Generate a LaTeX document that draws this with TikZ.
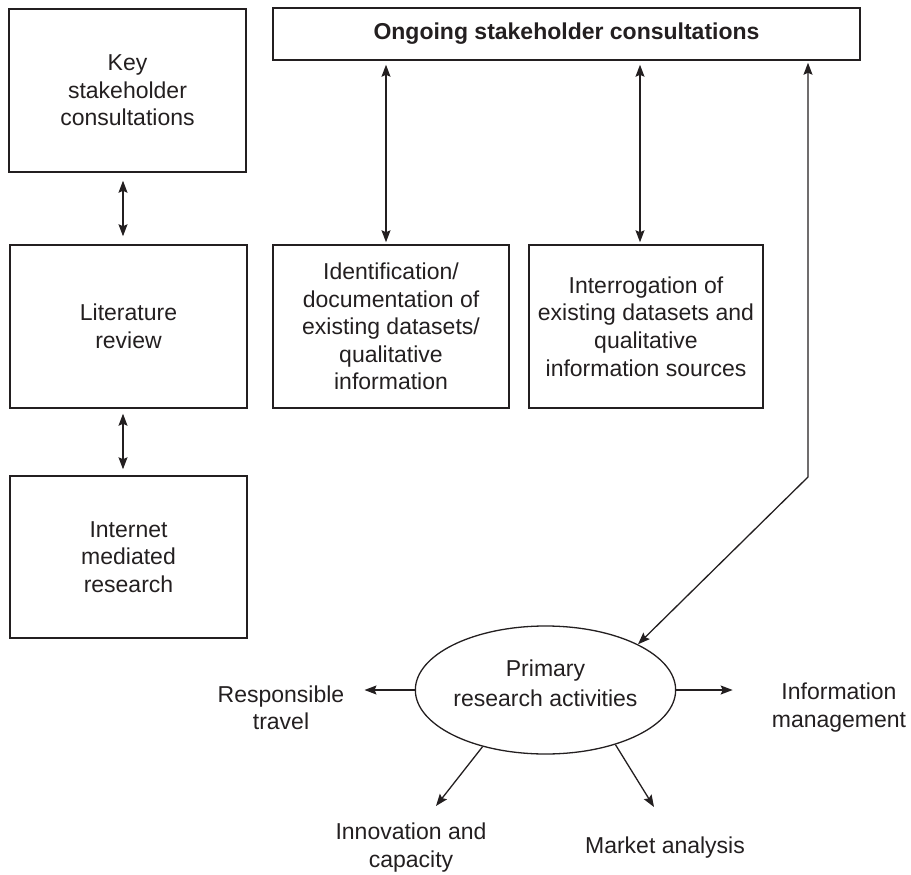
\documentclass[tikz,border=0pt]{standalone}
\usepackage{fontspec}
\setmainfont{Liberation Sans}
\usepackage{tikz}
\usetikzlibrary{arrows.meta,shapes.geometric}
\definecolor{ink}{HTML}{231F20}
\newcommand{\bodyfont}{\fontsize{23}{27.6}\selectfont}
\tikzset{
  box/.style  = {rectangle, draw=ink, line width=1.5pt, inner sep=2pt, align=center,
                 font=\bodyfont, text=ink},
  hub/.style  = {ellipse, draw=ink, line width=1.3pt, minimum width=245pt, minimum height=128pt,
                 inner sep=0pt, align=center, font=\bodyfont, text=ink},
  link/.style = {{Stealth[length=12pt,width=9pt,inset=2pt]}-{Stealth[length=12pt,width=9pt,inset=2pt]},
                 line width=1.3pt, draw=ink},
  flow/.style = {-{Stealth[length=12pt,width=9pt,inset=2pt]}, line width=1.3pt, draw=ink},
  tag/.style  = {inner sep=0pt, align=center, font=\bodyfont, text=ink},
}

\begin{document}
\begin{tikzpicture}[x=1pt, y=-1pt]
  \useasboundingbox (0,0) rectangle (911,875);

  \node[box, minimum width=237pt, minimum height=163pt] (key) at (127.5,90.5) {Key\\stakeholder\\consultations};
  \node[box, minimum width=237pt, minimum height=163pt] (lit) at (128.5,326.5) {Literature\\review};
  \node[box, minimum width=237pt, minimum height=162pt] (net) at (128.5,557) {Internet\\mediated\\research};

  \node[box, minimum width=587pt, minimum height=52pt, font=\bodyfont\bfseries] (ongo) at (566.5,34)
    {Ongoing stakeholder consultations};
  \node[box, minimum width=236pt, minimum height=163pt] (ident) at (391,326.5)
    {Identification/\\documentation of\\existing datasets/\\qualitative\\information};
  \node[box, minimum width=234pt, minimum height=163pt] (inter) at (646,326.5)
    {Interrogation of\\existing datasets and\\qualitative\\information sources};

  \node[hub, text depth=13pt] (prim) at (545.5,690) {Primary\\[2.4pt]research activities};

  \node[tag] (resp) at (281,707.6) {Responsible\\travel};
  \node[tag] (info) at (839,707.5) {Information\\management};
  \node[tag] (innov) at (411,847.5) {Innovation and\\capacity};
  \node[tag, anchor=base] (mkt) at (665,853) {Market analysis};

  \coordinate (bend) at (808,477);
  \coordinate (tipSW) at (436,806);
  \coordinate (tipSE) at (654,807);

  \draw[link, shorten <=8pt, shorten >=8pt] ([xshift=-4.5pt]key.south) -- ([xshift=-5.5pt]lit.north);
  \draw[link, shorten <=5pt, shorten >=6pt] ([xshift=-5.5pt]lit.south) -- ([xshift=-5.5pt]net.north);
  \draw[link, shorten <=2pt, shorten >=4pt] ([xshift=-5pt]ident.north) -- ([xshift=-5pt]ident.north |- ongo.south);
  \draw[link, shorten <=2pt, shorten >=4pt] ([xshift=-6pt]inter.north) -- ([xshift=-6pt]inter.north |- ongo.south);
  \draw[link, shorten >=2pt] (prim.north east) -- (bend) -- (bend |- ongo.south);

  \draw[flow, shorten >=20pt] (prim.west) -- (prim.west -| resp.east);
  \draw[flow, shorten >=39pt] (prim.east) -- (prim.east -| info.west);
  \draw[flow] (prim.222) -- (tipSW);
  \draw[flow] (prim.322) -- (tipSE);
\end{tikzpicture}
\end{document}
